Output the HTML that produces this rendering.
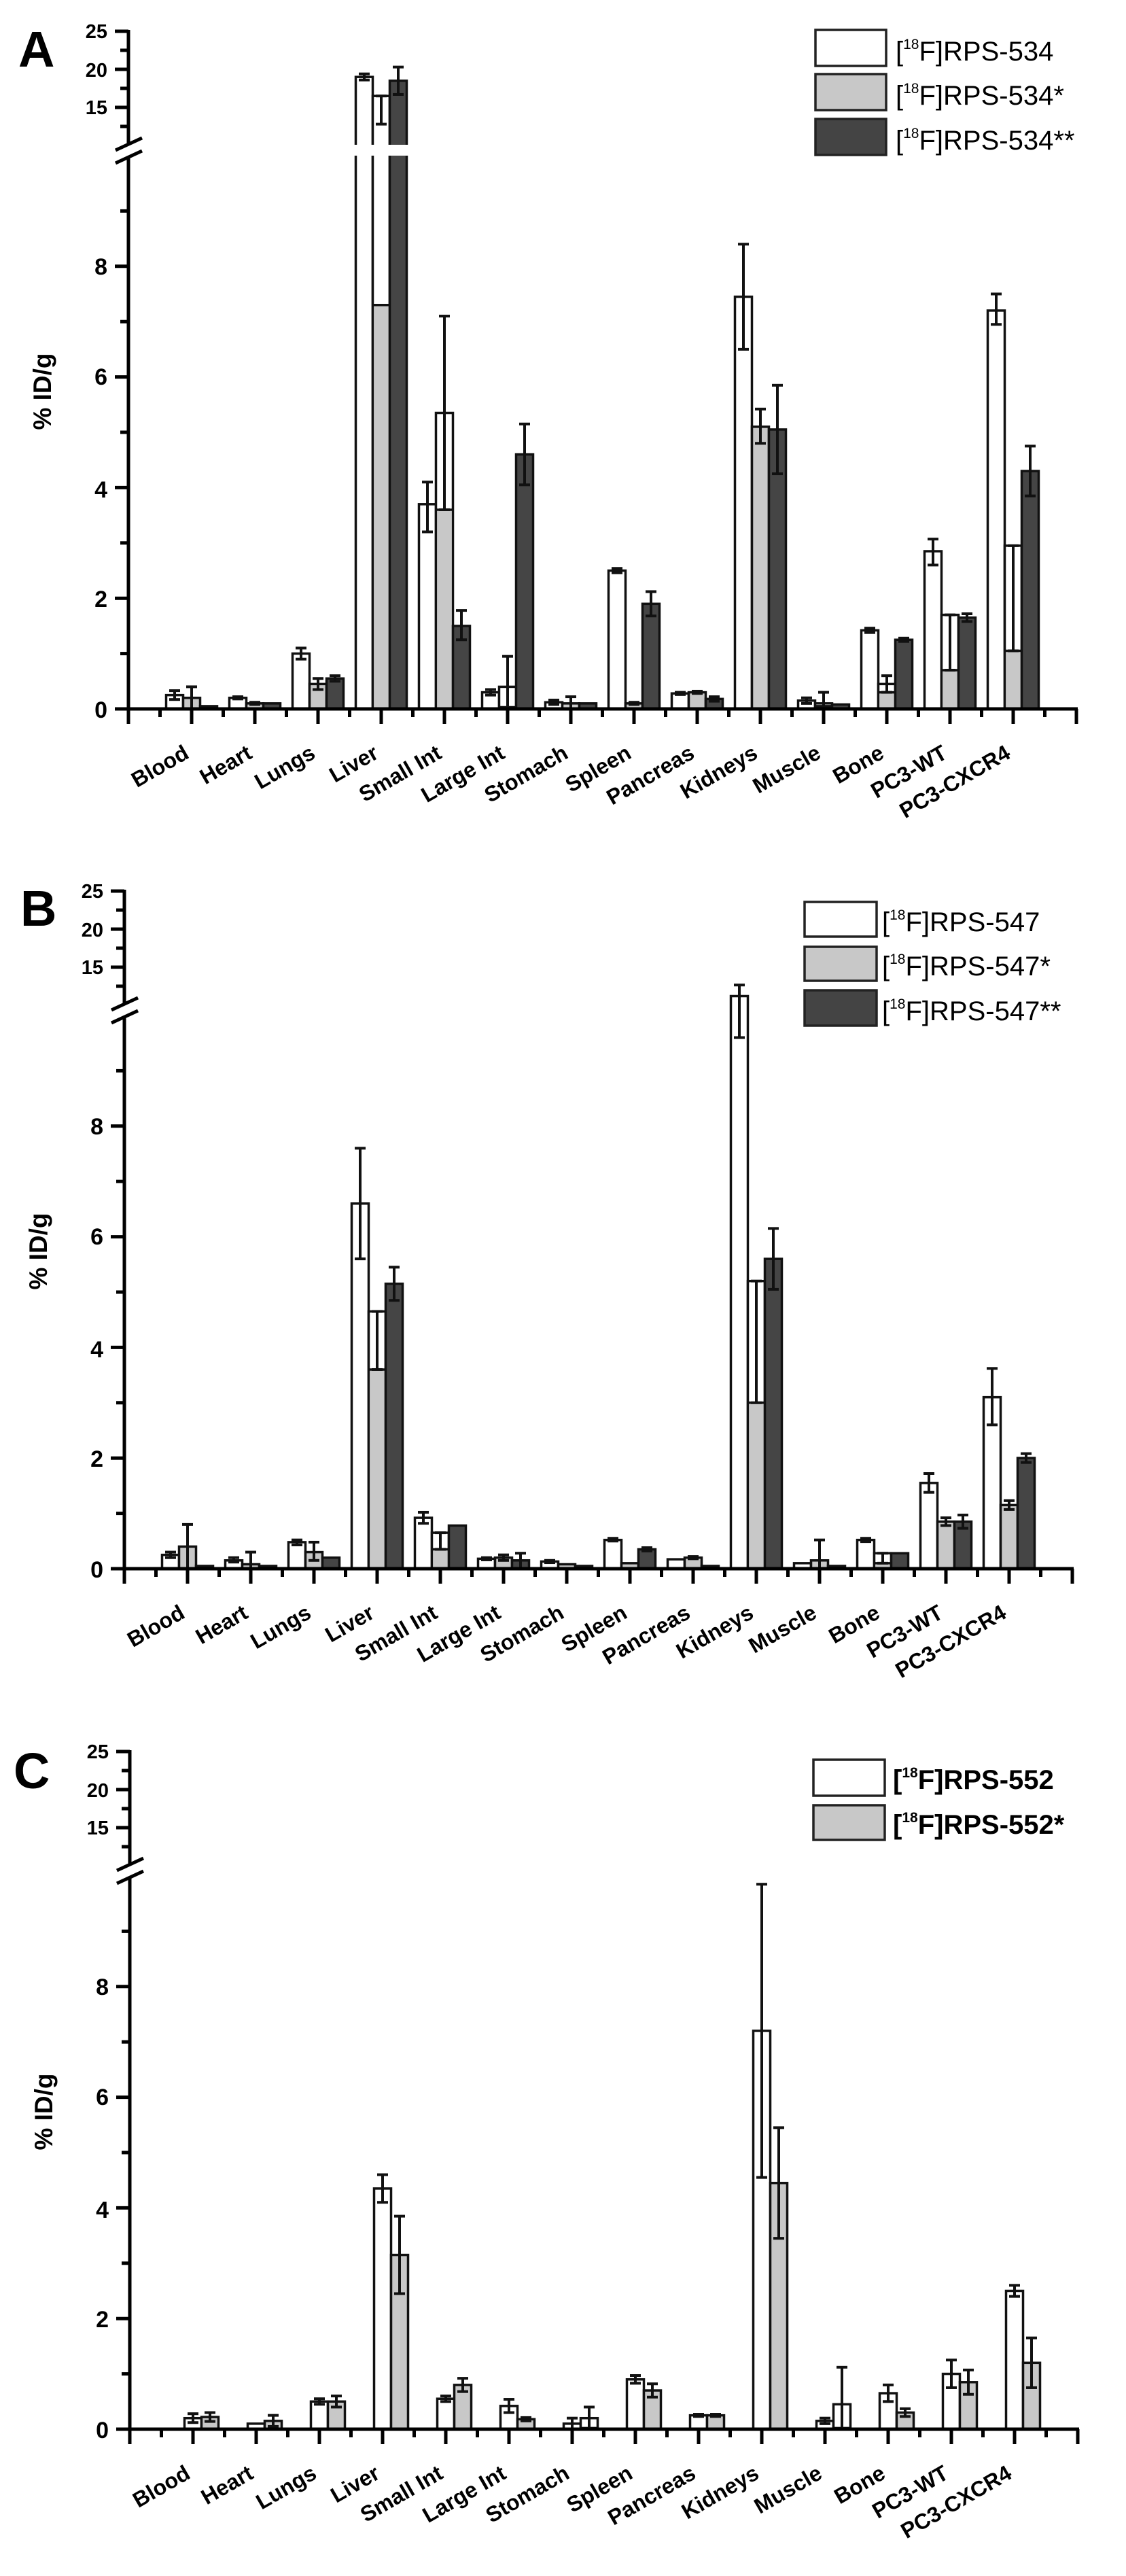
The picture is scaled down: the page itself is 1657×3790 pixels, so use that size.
<!DOCTYPE html>
<html><head><meta charset="utf-8"><style>
html,body{margin:0;padding:0;background:#fff;}
svg{display:block;}
text{font-family:"Liberation Sans",Arial,sans-serif;fill:#000;}
.tk{font-size:34px;font-weight:bold;text-anchor:end;}
.tku{font-size:29px;font-weight:bold;text-anchor:end;}
.xl{font-size:32px;font-weight:bold;text-anchor:end;}
.yl{font-size:37px;font-weight:bold;text-anchor:middle;}
.pl{font-size:74px;font-weight:bold;}
.lg{font-size:40px;}
.lgs{font-size:21px;}
</style></head><body>
<svg id="s" width="1657" height="3790" viewBox="0 0 1657 3790" xmlns="http://www.w3.org/2000/svg">
<rect width="1657" height="3790" fill="#fff"/>

<g id="pA" transform="translate(0,0)">
<text class="pl" x="27" y="98">A</text>
<text class="tku" x="158" y="56">25</text><text class="tku" x="158" y="113">20</text><text class="tku" x="158" y="168">15</text>
<text class="tk" x="158" y="404">8</text><text class="tk" x="158" y="566">6</text><text class="tk" x="158" y="732">4</text><text class="tk" x="158" y="893">2</text><text class="tk" x="158" y="1056">0</text>
<text class="yl" transform="translate(75,576) rotate(-90)">% ID/g</text>
<rect x="1200" y="44" width="104" height="53" fill="#fff" stroke="#222" stroke-width="3.5"/>
<rect x="1200" y="109" width="104" height="53" fill="#c8c8c8" stroke="#222" stroke-width="3.5"/>
<rect x="1200" y="175" width="104" height="53" fill="#444" stroke="#222" stroke-width="3.5"/>
<text class="lg" x="1318" y="89">[<tspan class="lgs" dy="-17">18</tspan><tspan dy="17">F]RPS-534</tspan></text>
<text class="lg" x="1318" y="154">[<tspan class="lgs" dy="-17">18</tspan><tspan dy="17">F]RPS-534*</tspan></text>
<text class="lg" x="1318" y="220">[<tspan class="lgs" dy="-17">18</tspan><tspan dy="17">F]RPS-534**</tspan></text>
<g class="xlabels">
<text class="xl" transform="translate(280,1114) rotate(-30)">Blood</text>
<text class="xl" transform="translate(373,1114) rotate(-30)">Heart</text>
<text class="xl" transform="translate(466,1114) rotate(-30)">Lungs</text>
<text class="xl" transform="translate(559,1114) rotate(-30)">Liver</text>
<text class="xl" transform="translate(652,1114) rotate(-30)">Small Int</text>
<text class="xl" transform="translate(745,1114) rotate(-30)">Large Int</text>
<text class="xl" transform="translate(838,1114) rotate(-30)">Stomach</text>
<text class="xl" transform="translate(931,1114) rotate(-30)">Spleen</text>
<text class="xl" transform="translate(1024,1114) rotate(-30)">Pancreas</text>
<text class="xl" transform="translate(1117,1114) rotate(-30)">Kidneys</text>
<text class="xl" transform="translate(1210,1114) rotate(-30)">Muscle</text>
<text class="xl" transform="translate(1303,1114) rotate(-30)">Bone</text>
<text class="xl" transform="translate(1396,1114) rotate(-30)">PC3-WT</text>
<text class="xl" transform="translate(1489,1114) rotate(-30)">PC3-CXCR4</text>
</g>
</g>

<g id="pB" transform="translate(-6,1265)">
<text class="pl" x="36" y="97">B</text>
<text class="tku" x="158" y="56">25</text><text class="tku" x="158" y="113">20</text><text class="tku" x="158" y="168">15</text>
<text class="tk" x="158" y="404">8</text><text class="tk" x="158" y="566">6</text><text class="tk" x="158" y="732">4</text><text class="tk" x="158" y="893">2</text><text class="tk" x="158" y="1056">0</text>
<text class="yl" transform="translate(75,576) rotate(-90)">% ID/g</text>
<rect x="1190" y="62" width="106" height="51" fill="#fff" stroke="#222" stroke-width="3.5"/>
<rect x="1190" y="128" width="106" height="50" fill="#c8c8c8" stroke="#222" stroke-width="3.5"/>
<rect x="1190" y="192" width="106" height="52" fill="#444" stroke="#222" stroke-width="3.5"/>
<text class="lg" x="1304" y="105">[<tspan class="lgs" dy="-17">18</tspan><tspan dy="17">F]RPS-547</tspan></text>
<text class="lg" x="1304" y="170">[<tspan class="lgs" dy="-17">18</tspan><tspan dy="17">F]RPS-547*</tspan></text>
<text class="lg" x="1304" y="236">[<tspan class="lgs" dy="-17">18</tspan><tspan dy="17">F]RPS-547**</tspan></text>
<g class="xlabels">
<text class="xl" transform="translate(280,1114) rotate(-30)">Blood</text>
<text class="xl" transform="translate(373,1114) rotate(-30)">Heart</text>
<text class="xl" transform="translate(466,1114) rotate(-30)">Lungs</text>
<text class="xl" transform="translate(559,1114) rotate(-30)">Liver</text>
<text class="xl" transform="translate(652,1114) rotate(-30)">Small Int</text>
<text class="xl" transform="translate(745,1114) rotate(-30)">Large Int</text>
<text class="xl" transform="translate(838,1114) rotate(-30)">Stomach</text>
<text class="xl" transform="translate(931,1114) rotate(-30)">Spleen</text>
<text class="xl" transform="translate(1024,1114) rotate(-30)">Pancreas</text>
<text class="xl" transform="translate(1117,1114) rotate(-30)">Kidneys</text>
<text class="xl" transform="translate(1210,1114) rotate(-30)">Muscle</text>
<text class="xl" transform="translate(1303,1114) rotate(-30)">Bone</text>
<text class="xl" transform="translate(1396,1114) rotate(-30)">PC3-WT</text>
<text class="xl" transform="translate(1489,1114) rotate(-30)">PC3-CXCR4</text>
</g>
</g>

<g id="pC" transform="translate(2,2531)">
<text class="pl" x="18" y="100">C</text>
<text class="tku" x="158" y="56">25</text><text class="tku" x="158" y="113">20</text><text class="tku" x="158" y="168">15</text>
<text class="tk" x="158" y="404">8</text><text class="tk" x="158" y="566">6</text><text class="tk" x="158" y="732">4</text><text class="tk" x="158" y="893">2</text><text class="tk" x="158" y="1056">0</text>
<text class="yl" transform="translate(75,576) rotate(-90)">% ID/g</text>
<rect x="1195" y="58" width="105" height="53" fill="#fff" stroke="#222" stroke-width="3.5"/>
<rect x="1195" y="125" width="105" height="51" fill="#c8c8c8" stroke="#222" stroke-width="3.5"/>
<text class="lg" x="1312" y="101" font-weight="bold">[<tspan class="lgs" dy="-17">18</tspan><tspan dy="17">F]RPS-552</tspan></text>
<text class="lg" x="1312" y="167" font-weight="bold">[<tspan class="lgs" dy="-17">18</tspan><tspan dy="17">F]RPS-552*</tspan></text>
<g class="xlabels">
<text class="xl" transform="translate(280,1114) rotate(-30)">Blood</text>
<text class="xl" transform="translate(373,1114) rotate(-30)">Heart</text>
<text class="xl" transform="translate(466,1114) rotate(-30)">Lungs</text>
<text class="xl" transform="translate(559,1114) rotate(-30)">Liver</text>
<text class="xl" transform="translate(652,1114) rotate(-30)">Small Int</text>
<text class="xl" transform="translate(745,1114) rotate(-30)">Large Int</text>
<text class="xl" transform="translate(838,1114) rotate(-30)">Stomach</text>
<text class="xl" transform="translate(931,1114) rotate(-30)">Spleen</text>
<text class="xl" transform="translate(1024,1114) rotate(-30)">Pancreas</text>
<text class="xl" transform="translate(1117,1114) rotate(-30)">Kidneys</text>
<text class="xl" transform="translate(1210,1114) rotate(-30)">Muscle</text>
<text class="xl" transform="translate(1303,1114) rotate(-30)">Bone</text>
<text class="xl" transform="translate(1396,1114) rotate(-30)">PC3-WT</text>
<text class="xl" transform="translate(1489,1114) rotate(-30)">PC3-CXCR4</text>
</g>
</g>
</svg>
<script>
(function(){
var NS="http://www.w3.org/2000/svg";
function el(g,n,a){var e=document.createElementNS(NS,n);for(var k in a)e.setAttribute(k,a[k]);g.appendChild(e);return e;}
function yv(v){return v<=11?1043-81.4*v:46+(25-v)*11.2;}
var AX=189,SP=93;
function axes(g){
  var s={stroke:"#000","stroke-width":5,fill:"none"};
  el(g,"line",Object.assign({x1:AX,y1:44,x2:AX,y2:214},s));
  el(g,"line",Object.assign({x1:AX,y1:230,x2:AX,y2:1045},s));
  el(g,"line",Object.assign({x1:AX-2,y1:1043,x2:1586,y2:1043},s));
  [25,20,15].forEach(function(v){el(g,"line",Object.assign({x1:AX-20,y1:yv(v),x2:AX,y2:yv(v)},s));});
  [22.5,17.5,12.5].forEach(function(v){el(g,"line",Object.assign({x1:AX-12,y1:yv(v),x2:AX,y2:yv(v)},s));});
  [0,2,4,6,8].forEach(function(v){el(g,"line",Object.assign({x1:AX-20,y1:yv(v),x2:AX,y2:yv(v)},s));});
  [1,3,5,7,9].forEach(function(v){el(g,"line",Object.assign({x1:AX-12,y1:yv(v),x2:AX,y2:yv(v)},s));});
  for(var k=0;k<=15;k++){var x=AX+SP*k;el(g,"line",Object.assign({x1:x,y1:1043,x2:x,y2:1065},s));}
  for(var k=0;k<15;k++){var x=AX+SP*k+SP/2;el(g,"line",Object.assign({x1:x,y1:1043,x2:x,y2:1055},s));}
  el(g,"rect",{x:AX-25,y:212,width:50,height:20,fill:"#fff"});
  el(g,"line",Object.assign({x1:AX-19,y1:221,x2:AX+20,y2:203},s));
  el(g,"line",Object.assign({x1:AX-19,y1:240,x2:AX+20,y2:222},s));
}
var FILL=["#fff","#c8c8c8","#454545"];
function bar(g,cx,fi,d){
  if(!d)return;
  var t=d[0],lo=d[1],hi=d[2],f=d[3];
  var x=cx-12.5,w=25,yt=yv(t),yb=1043;
  el(g,"rect",{x:x,y:yt,width:w,height:yb-yt,fill:(f!==undefined?"#fff":FILL[fi]),stroke:"#111","stroke-width":3.5});
  if(f!==undefined&&f>0){var yf=yv(f);el(g,"rect",{x:x+1.75,y:yf,width:w-3.5,height:yb-yf-1.75,fill:FILL[fi]});
    el(g,"line",{x1:x,y1:yf,x2:x+w,y2:yf,stroke:"#111","stroke-width":3.5});}
  if(lo!==undefined){
    var s={stroke:"#111","stroke-width":4};
    el(g,"line",Object.assign({x1:cx,y1:yv(lo),x2:cx,y2:yv(hi)},s));
    el(g,"line",Object.assign({x1:cx-8,y1:yv(hi),x2:cx+8,y2:yv(hi)},s));
    if(lo>0.02)el(g,"line",Object.assign({x1:cx-8,y1:yv(lo),x2:cx+8,y2:yv(lo)},s));
  }
}
var A=[
[[0.25,0.17,0.33],[0.2,0.18,0.22],[1.0,0.9,1.1],[19,18.6,19.4],[3.7,3.2,4.1],[0.3,0.25,0.35],[0.12,0.08,0.16],[2.5,2.46,2.54],[0.28,0.26,0.3],[7.45,6.5,8.4],[0.15,0.1,0.2],[1.42,1.38,1.46],[2.85,2.6,3.07],[7.2,6.95,7.5]],
[[0.2,0,0.4],[0.1,0.08,0.12],[0.45,0.35,0.55],[16.5,12.8,16.5,7.3],[5.35,3.6,7.1,3.6],[0.4,0,0.95,0.03],[0.1,0,0.22],[0.1,0.08,0.12],[0.3,0.28,0.32],[5.1,4.8,5.42],[0.1,0,0.3,0.05],[0.45,0.3,0.6,0.3],[1.7,0.7,1.7,0.7],[2.95,1.05,2.95,1.05]],
[[0.05],[0.1],[0.55,0.5,0.6],[18.5,16.7,20.3],[1.5,1.25,1.78],[4.6,4.05,5.15],[0.1],[1.9,1.68,2.12],[0.18,0.14,0.22],[5.05,4.25,5.85],[0.08],[1.25,1.22,1.28],[1.65,1.58,1.72],[4.3,3.85,4.75]]];
var B=[
[[0.25,0.2,0.3],[0.15,0.12,0.2],[0.48,0.43,0.52],[6.6,5.6,7.6],[0.92,0.82,1.02],[0.18,0.16,0.2],[0.13,0.11,0.15],[0.52,0.5,0.55],[0.17],[10.35,9.6,10.55],[0.1],[0.52,0.49,0.55],[1.55,1.38,1.72],[3.1,2.6,3.62]],
[[0.4,0,0.8],[0.08,0,0.3],[0.3,0.15,0.48],[4.65,3.6,4.65,3.6],[0.65,0.35,0.65,0.35],[0.2,0.15,0.25],[0.08],[0.1],[0.2,0.18,0.22],[5.2,3.0,5.2,3.0],[0.15,0,0.52],[0.28,0.1,0.28,0.1],[0.85,0.78,0.92],[1.15,1.07,1.23]],
[[0.05],[0.05],[0.2],[5.15,4.85,5.45],[0.78],[0.15,0,0.28],[0.05],[0.35,0.32,0.38],[0.05],[5.6,5.05,6.15],[0.05],[0.28],[0.85,0.73,0.97],[2.0,1.92,2.08]]];
var C=[
[[0.2,0.12,0.28],[0.1],[0.5,0.45,0.55],[4.35,4.1,4.6],[0.55,0.5,0.6],[0.42,0.3,0.54],[0.1,0,0.2],[0.9,0.83,0.97],[0.25,0.23,0.27],[7.2,4.55,9.85],[0.15,0.1,0.2],[0.65,0.5,0.8],[1.0,0.75,1.25],[2.5,2.4,2.6]],
[[0.22,0.14,0.3],[0.15,0.05,0.25],[0.5,0.4,0.6],[3.15,2.45,3.85],[0.8,0.68,0.92],[0.18,0.15,0.21],[0.2,0,0.4,0.02],[0.7,0.58,0.82],[0.25,0.23,0.27],[4.45,3.45,5.45],[0.45,0,1.12,0.02],[0.3,0.23,0.37],[0.85,0.63,1.07],[1.2,0.75,1.65]]];
function panel(id,data,offs){
  var g=document.getElementById(id);
  var bg=el(g,"g",{});
  for(var k=0;k<14;k++){var t=AX+SP*(k+1);
    for(var s=0;s<data.length;s++)bar(bg,t+offs[s],s,data[s][k]);}
  axes(g);
  return bg;
}
var ga=panel("pA",A,[-25,0,25]);
el(ga,"rect",{x:515,y:213,width:95,height:16,fill:"#fff"});
panel("pB",B,[-25,0,25]);
panel("pC",C,[0,25]);
})();
</script>
</body></html>
